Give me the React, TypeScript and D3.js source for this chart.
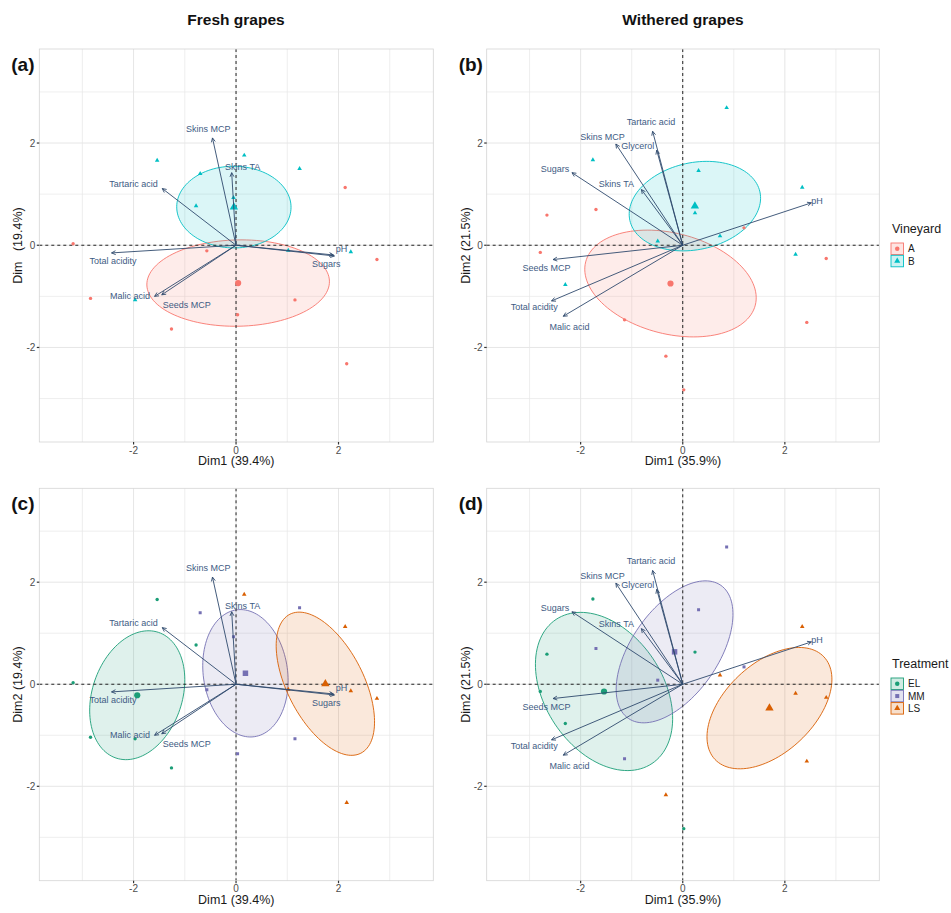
import React from 'react';
import * as d3 from 'd3';

// ---- Variable loadings (arrows) and label anchors ----
const freshVars = ['Skins MCP', 'Skins TA', 'Tartaric acid', 'Total acidity', 'Malic acid', 'Seeds MCP', 'pH', 'Sugars'];
const freshLoadX = [-0.46, -0.085, -1.44, -2.43, -1.59, -1.45, 1.9, 1.92];
const freshLoadY = [2.1, 1.42, 1.11, -0.15, -1.0, -0.97, -0.19, -0.21];
const freshLabelX = [-0.54, 0.13, -2.0, -2.4, -2.07, -0.96, 2.06, 1.76];
const freshLabelY = [2.28, 1.53, 1.2, -0.31, -0.99, -1.17, -0.08, -0.36];

const witheredVars = ['Tartaric acid', 'Glycerol', 'Skins MCP', 'Sugars', 'Skins TA', 'pH', 'Seeds MCP', 'Total acidity', 'Malic acid'];
const witheredLoadX = [-0.59, -0.51, -1.31, -2.17, -0.81, 2.52, -2.54, -2.57, -2.34];
const witheredLoadY = [2.23, 1.86, 1.98, 1.42, 1.09, 0.83, -0.28, -1.09, -1.39];
const witheredLabelX = [-0.62, -0.88, -1.57, -2.5, -1.3, 2.63, -2.67, -2.91, -2.22];
const witheredLabelY = [2.42, 1.95, 2.12, 1.5, 1.19, 0.87, -0.44, -1.21, -1.6];

// ---- Samples: vineyard x treatment, three replicates each ----
const sampleVineyard = ['A', 'A', 'A', 'A', 'A', 'A', 'A', 'A', 'A', 'B', 'B', 'B', 'B', 'B', 'B', 'B', 'B', 'B'];
const sampleTreatment = ['EL', 'EL', 'EL', 'MM', 'MM', 'MM', 'LS', 'LS', 'LS', 'EL', 'EL', 'EL', 'MM', 'MM', 'MM', 'LS', 'LS', 'LS'];

const freshDim1 = [-3.18, -2.84, -1.26, -0.57, 0.03, 1.15, 2.13, 2.75, 2.16, -1.97, -1.54, -0.78, -0.7, -0.05, 1.24, 0.16, 2.24, 1.02];
const freshDim2 = [0.03, -1.04, -1.64, -0.11, -1.36, -1.07, 1.13, -0.28, -2.32, -1.07, 1.66, 0.77, 1.4, 0.93, 1.5, 1.76, -0.13, -0.1];

const witheredDim1 = [-2.66, -2.79, 0.02, -1.7, -1.14, 1.2, -0.33, 2.43, 2.81, -1.76, -2.3, 0.24, -0.49, 0.31, 0.86, 0.73, 2.34, 2.21];
const witheredDim2 = [0.59, -0.14, -2.83, 0.7, -1.46, 0.34, -2.17, -1.51, -0.26, 1.67, -0.77, 0.63, 0.08, 1.46, 2.69, 0.18, 1.13, -0.18];

const vineyardLevels = ['A', 'B'];
const vineyardColors = ['#F8766D', '#00BFC4'];
const vineyardShapes = ['circle', 'triangle'];

const treatmentLevels = ['EL', 'MM', 'LS'];
const treatmentColors = ['#1B9E77', '#7570B3', '#D95F02'];
const treatmentShapes = ['circle', 'square', 'triangle'];

const gridTicks = [-3, -2, -1, 0, 1, 2, 3];
const axisTicks = [-2, 0, 2];

const FONT = '"Liberation Sans", Arial, sans-serif';
const ARROW_COL = '#2f4a6d';
const LABEL_COL = '#3e5b84';
const CHI2_95 = 5.991;

const symbolFor = (shape: string) =>
  shape === 'triangle' ? d3.symbolTriangle : shape === 'square' ? d3.symbolSquare : d3.symbolCircle;

function ellipsePath(xs: number[], ys: number[], sx: any, sy: any) {
  const n = xs.length;
  const mx = d3.mean(xs) as number;
  const my = d3.mean(ys) as number;
  let sxx = 0, syy = 0, sxy = 0;
  for (let i = 0; i < n; i++) {
    sxx += (xs[i] - mx) ** 2;
    syy += (ys[i] - my) ** 2;
    sxy += (xs[i] - mx) * (ys[i] - my);
  }
  sxx /= (n - 1) * n;
  syy /= (n - 1) * n;
  sxy /= (n - 1) * n;
  const tr = sxx + syy;
  const det = sxx * syy - sxy * sxy;
  const disc = Math.sqrt(Math.max(0, (tr * tr) / 4 - det));
  const l1 = tr / 2 + disc;
  const l2 = tr / 2 - disc;
  const th = 0.5 * Math.atan2(2 * sxy, sxx - syy);
  const a = Math.sqrt(l1 * CHI2_95);
  const b = Math.sqrt(Math.max(l2, 0) * CHI2_95);
  const pts = d3.range(0, 121).map((i) => {
    const t = (i / 120) * Math.PI * 2;
    const ex = mx + a * Math.cos(t) * Math.cos(th) - b * Math.sin(t) * Math.sin(th);
    const ey = my + a * Math.cos(t) * Math.sin(th) + b * Math.sin(t) * Math.cos(th);
    return [sx(ex), sy(ey)] as [number, number];
  });
  return (d3.line()(pts) || '') + 'Z';
}

type PanelProps = {
  left: number;
  right: number;
  top: number;
  bottom: number;
  tag: string;
  dim1: number[];
  dim2: number[];
  groups: string[];
  levels: string[];
  colors: string[];
  shapes: string[];
  vars: string[];
  loadX: number[];
  loadY: number[];
  labelX: number[];
  labelY: number[];
  xTitle: string;
  yTitle: string;
};

function Panel(p: PanelProps) {
  const sx = d3.scaleLinear().domain([-3.84, 3.85]).range([p.left, p.right]);
  const sy = d3.scaleLinear().domain([-3.85, 3.84]).range([p.bottom, p.top]);
  const clipId = 'clip-' + p.tag.replace(/[()]/g, '');

  const groupIdx = p.levels.map((lv) => p.groups.map((g, i) => (g === lv ? i : -1)).filter((i) => i >= 0));

  return (
    <g>
      <defs>
        <clipPath id={clipId}>
          <rect x={p.left} y={p.top} width={p.right - p.left} height={p.bottom - p.top} />
        </clipPath>
      </defs>
      <rect x={p.left} y={p.top} width={p.right - p.left} height={p.bottom - p.top} fill="#fff" />
      {gridTicks.map((t) => (
        <g key={'g' + t}>
          <line x1={sx(t)} x2={sx(t)} y1={p.top} y2={p.bottom} stroke="#e6e6e6" strokeWidth={axisTicks.includes(t) ? 1 : 0.7} />
          <line x1={p.left} x2={p.right} y1={sy(t)} y2={sy(t)} stroke="#e6e6e6" strokeWidth={axisTicks.includes(t) ? 1 : 0.7} />
        </g>
      ))}
      <g clipPath={`url(#${clipId})`}>
        {/* confidence ellipses around group means */}
        {groupIdx.map((idx, gi) => (
          <path
            key={'e' + gi}
            d={ellipsePath(idx.map((i) => p.dim1[i]), idx.map((i) => p.dim2[i]), sx, sy)}
            fill={p.colors[gi]}
            fillOpacity={0.14}
            stroke={p.colors[gi]}
            strokeWidth={0.9}
          />
        ))}
        {/* origin reference lines */}
        <line x1={sx(0)} x2={sx(0)} y1={p.top} y2={p.bottom} stroke="#222" strokeWidth={1} strokeDasharray="3,3" />
        <line x1={p.left} x2={p.right} y1={sy(0)} y2={sy(0)} stroke="#222" strokeWidth={1} strokeDasharray="3,3" />
        {/* individuals */}
        {p.dim1.map((d, i) => {
          const gi = p.levels.indexOf(p.groups[i]);
          return (
            <path
              key={'pt' + i}
              transform={`translate(${sx(d)},${sy(p.dim2[i])})`}
              d={d3.symbol().type(symbolFor(p.shapes[gi])).size(9)() || ''}
              fill={p.colors[gi]}
            />
          );
        })}
        {/* group means */}
        {groupIdx.map((idx, gi) => (
          <path
            key={'m' + gi}
            transform={`translate(${sx(d3.mean(idx.map((i) => p.dim1[i])) as number)},${sy(d3.mean(idx.map((i) => p.dim2[i])) as number)})`}
            d={d3.symbol().type(symbolFor(p.shapes[gi])).size(30)() || ''}
            fill={p.colors[gi]}
          />
        ))}
        {/* variable arrows */}
        {p.vars.map((v, i) => {
          const x0 = sx(0), y0 = sy(0);
          const x1 = sx(p.loadX[i]), y1 = sy(p.loadY[i]);
          const ang = Math.atan2(y1 - y0, x1 - x0);
          const L = 4.5, spread = Math.PI / 7;
          const h1 = [x1 - L * Math.cos(ang - spread), y1 - L * Math.sin(ang - spread)];
          const h2 = [x1 - L * Math.cos(ang + spread), y1 - L * Math.sin(ang + spread)];
          return (
            <g key={'a' + i}>
              <line x1={x0} y1={y0} x2={x1} y2={y1} stroke={ARROW_COL} strokeWidth={0.9} />
              <path d={`M${h1[0]},${h1[1]}L${x1},${y1}L${h2[0]},${h2[1]}`} fill="none" stroke={ARROW_COL} strokeWidth={0.9} />
              <text
                x={sx(p.labelX[i])}
                y={sy(p.labelY[i])}
                textAnchor="middle"
                dominantBaseline="central"
                fontFamily={FONT}
                fontSize={9}
                fill={LABEL_COL}
              >
                {v}
              </text>
            </g>
          );
        })}
      </g>
      <rect x={p.left} y={p.top} width={p.right - p.left} height={p.bottom - p.top} fill="none" stroke="#d4d4d4" strokeWidth={0.8} />
      {/* axes */}
      {axisTicks.map((t) => (
        <g key={'t' + t}>
          <line x1={sx(t)} x2={sx(t)} y1={p.bottom} y2={p.bottom + 2.5} stroke="#333" strokeWidth={1.2} />
          <text x={sx(t)} y={p.bottom + 11.5} textAnchor="middle" fontFamily={FONT} fontSize={10} fill="#4d4d4d">
            {t}
          </text>
          <line x1={p.left - 2.5} x2={p.left} y1={sy(t)} y2={sy(t)} stroke="#333" strokeWidth={1.2} />
          <text x={p.left - 4} y={sy(t)} textAnchor="end" dominantBaseline="central" fontFamily={FONT} fontSize={10} fill="#4d4d4d">
            {t}
          </text>
        </g>
      ))}
      <text x={(p.left + p.right) / 2} y={p.bottom + 23} textAnchor="middle" fontFamily={FONT} fontSize={12.5} fill="#1a1a1a">
        {p.xTitle}
      </text>
      <text
        transform={`translate(${p.left - 21},${(p.top + p.bottom) / 2}) rotate(-90)`}
        textAnchor="middle"
        dominantBaseline="central"
        fontFamily={FONT}
        fontSize={12.5}
        fill="#1a1a1a"
        style={{ whiteSpace: 'pre' }}
      >
        {p.yTitle}
      </text>
      <text x={p.left - 28} y={p.top + 22} fontFamily={FONT} fontWeight="bold" fontSize={19} fill="#111">
        {p.tag}
      </text>
    </g>
  );
}

function Legend({ x, y, title, levels, colors, shapes }: { x: number; y: number; title: string; levels: string[]; colors: string[]; shapes: string[] }) {
  return (
    <g>
      <text x={x + 1} y={y} fontFamily={FONT} fontSize={12.5} fill="#1a1a1a">
        {title}
      </text>
      {levels.map((lv, i) => {
        const ky = y + 10 + i * 12.3;
        return (
          <g key={lv}>
            <rect x={x} y={ky} width={12.5} height={11.5} fill={colors[i]} fillOpacity={0.2} stroke={colors[i]} strokeWidth={0.9} />
            <path
              transform={`translate(${x + 6.25},${ky + 5.75})`}
              d={d3.symbol().type(symbolFor(shapes[i])).size(16)() || ''}
              fill={colors[i]}
            />
            <text x={x + 17} y={ky + 5.9} dominantBaseline="central" fontFamily={FONT} fontSize={10} fill="#1a1a1a">
              {lv}
            </text>
          </g>
        );
      })}
    </g>
  );
}

export default function App() {
  const L1 = 39.3, R1 = 433.3, L2 = 486.7, R2 = 879.3;
  const T1 = 49, B1 = 442, T2 = 488.3, B2 = 880.7;
  return (
    <svg width={951} height={913} style={{ position: 'absolute', left: 0, top: 0, background: '#fff' }}>
      <rect width={951} height={913} fill="#fff" />
      <text x={236} y={25} textAnchor="middle" fontFamily={FONT} fontWeight="bold" fontSize={15.5} fill="#111">
        Fresh grapes
      </text>
      <text x={683} y={25} textAnchor="middle" fontFamily={FONT} fontWeight="bold" fontSize={15.5} fill="#111">
        Withered grapes
      </text>
      <Panel
        left={L1} right={R1} top={T1} bottom={B1} tag="(a)"
        dim1={freshDim1} dim2={freshDim2} groups={sampleVineyard}
        levels={vineyardLevels} colors={vineyardColors} shapes={vineyardShapes}
        vars={freshVars} loadX={freshLoadX} loadY={freshLoadY} labelX={freshLabelX} labelY={freshLabelY}
        xTitle="Dim1 (39.4%)" yTitle="Dim   (19.4%)"
      />
      <Panel
        left={L2} right={R2} top={T1} bottom={B1} tag="(b)"
        dim1={witheredDim1} dim2={witheredDim2} groups={sampleVineyard}
        levels={vineyardLevels} colors={vineyardColors} shapes={vineyardShapes}
        vars={witheredVars} loadX={witheredLoadX} loadY={witheredLoadY} labelX={witheredLabelX} labelY={witheredLabelY}
        xTitle="Dim1 (35.9%)" yTitle="Dim2 (21.5%)"
      />
      <Panel
        left={L1} right={R1} top={T2} bottom={B2} tag="(c)"
        dim1={freshDim1} dim2={freshDim2} groups={sampleTreatment}
        levels={treatmentLevels} colors={treatmentColors} shapes={treatmentShapes}
        vars={freshVars} loadX={freshLoadX} loadY={freshLoadY} labelX={freshLabelX} labelY={freshLabelY}
        xTitle="Dim1 (39.4%)" yTitle="Dim2 (19.4%)"
      />
      <Panel
        left={L2} right={R2} top={T2} bottom={B2} tag="(d)"
        dim1={witheredDim1} dim2={witheredDim2} groups={sampleTreatment}
        levels={treatmentLevels} colors={treatmentColors} shapes={treatmentShapes}
        vars={witheredVars} loadX={witheredLoadX} loadY={witheredLoadY} labelX={witheredLabelX} labelY={witheredLabelY}
        xTitle="Dim1 (35.9%)" yTitle="Dim2 (21.5%)"
      />
      <Legend x={891} y={233} title="Vineyard" levels={vineyardLevels} colors={vineyardColors} shapes={vineyardShapes} />
      <Legend x={891} y={668} title="Treatment" levels={treatmentLevels} colors={treatmentColors} shapes={treatmentShapes} />
    </svg>
  );
}
